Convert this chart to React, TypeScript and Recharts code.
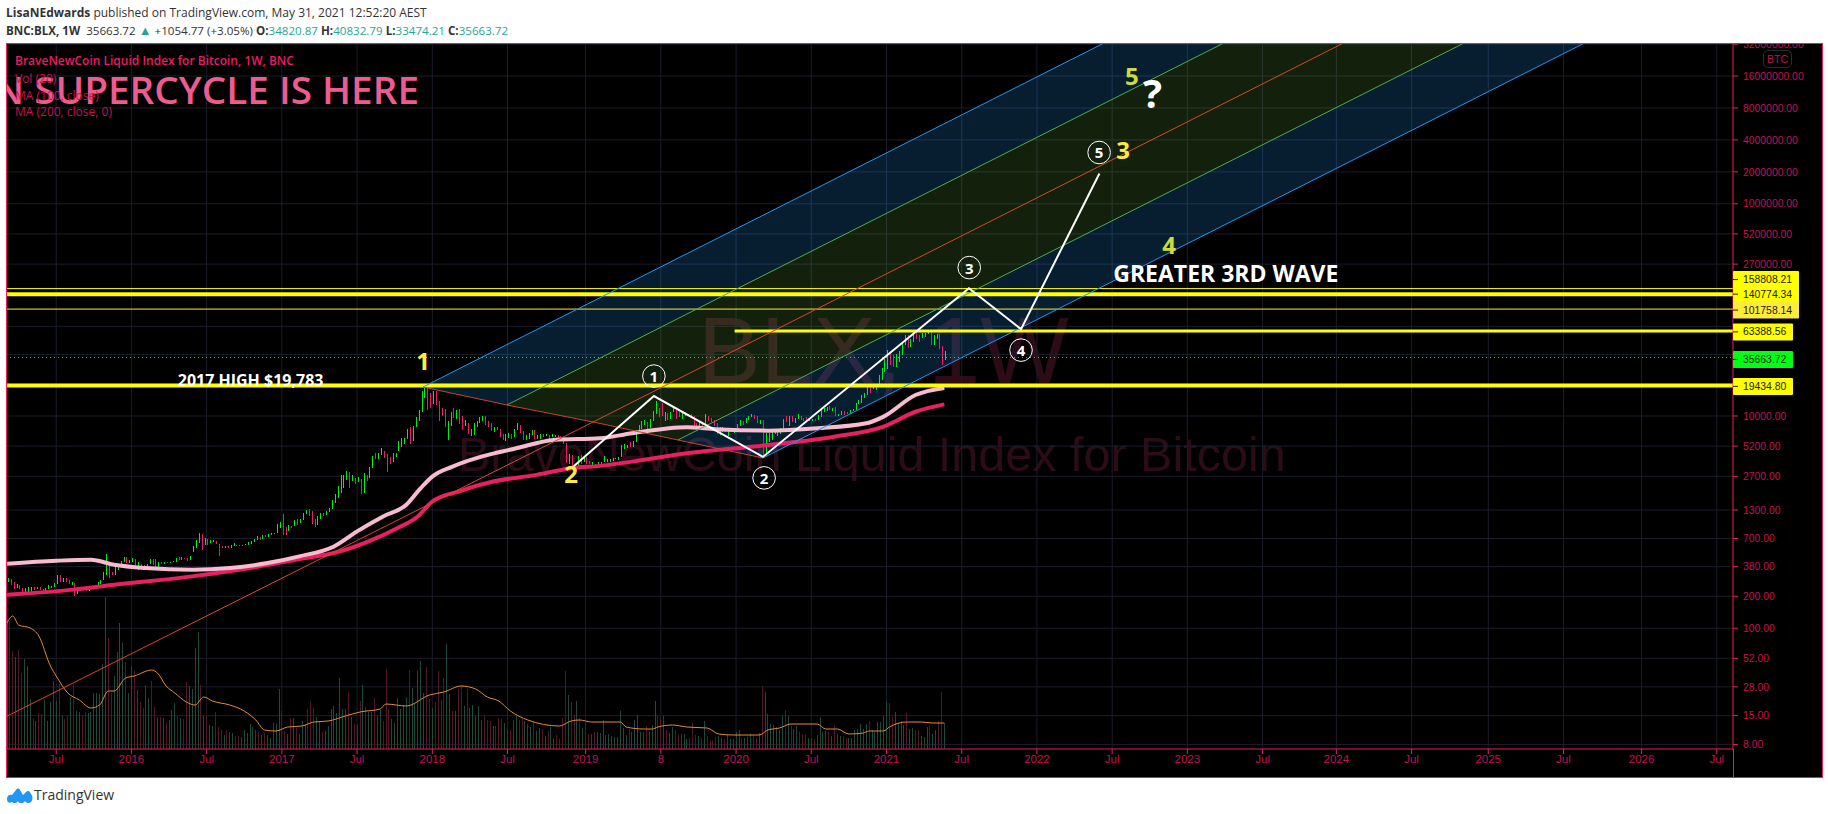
import {
  Area,
  Bar,
  CartesianGrid,
  ComposedChart,
  Line,
  ReferenceDot,
  Scatter,
  XAxis,
  YAxis
} from "recharts";

const CRIMSON = "#e91e63";
const AXIS_TEXT = "#c2134f";
const GRID = "#1b1d2a";
const TICK_FONT = "'Liberation Sans', sans-serif";
const UI_FONT = "'Open Sans', sans-serif";

// weekly candles as [high, low, close], the open is the previous close
const candles2015 = [
  [299, 270, 286], [293, 255, 260], [270, 235, 253], [262, 240, 255], // Mar
  [258, 235, 236], [238, 214, 222], [238, 218, 226], [244, 216, 235], // Apr
  [247, 225, 240], [245, 231, 237], [245, 232, 241], [243, 228, 230], // May
  [233, 221, 224], [237, 222, 233], [255, 232, 243], [250, 240, 249], [267, 247, 260], // Jun
  [316, 259, 311], [315, 272, 274], [300, 270, 290], [298, 275, 281], // Jul
  [285, 260, 263], [273, 258, 263], [265, 200, 228], [235, 210, 229], [240, 225, 238], // Aug
  [245, 231, 232], [236, 224, 231], [237, 225, 234], [239, 233, 237], // Sep
  [250, 235, 248], [272, 247, 262], [283, 261, 281], [335, 283, 325], // Oct
  [502, 320, 373], [385, 300, 330], [340, 315, 323], [375, 315, 362], [395, 355, 390], // Nov
  [430, 385, 425], [465, 425, 455], [465, 415, 423], [435, 410, 430] // Dec
];
const candles2016 = [
  [460, 425, 448], [450, 360, 380], [425, 355, 402], [400, 365, 378],
  [395, 365, 373], [405, 370, 402], [450, 400, 437], [445, 395, 431], [445, 365, 375],
  [420, 370, 412], [420, 405, 410], [425, 405, 417], [425, 410, 416],
  [425, 415, 420], [430, 418, 426], [460, 425, 455], [470, 435, 448],
  [465, 440, 458], [462, 445, 456], [460, 430, 441], [475, 435, 470], [590, 525, 580],
  [680, 570, 665], [790, 640, 760], [770, 540, 660], [705, 605, 660],
  [690, 610, 650], [675, 640, 660], [680, 650, 660], [665, 620, 625],
  [625, 480, 590], [600, 565, 570], [590, 565, 580], [595, 565, 570], [610, 565, 605],
  [630, 600, 625], [615, 600, 610], [612, 590, 600], [610, 600, 610],
  [622, 605, 618], [645, 610, 640], [660, 625, 650], [700, 650, 695], [745, 680, 705],
  [720, 685, 703], [760, 695, 750], [755, 720, 735], [775, 725, 765],
  [785, 750, 775], [795, 770, 790], [950, 785, 895], [1010, 885, 1000]
];
const candles2017 = [
  [1200, 760, 905], [905, 760, 820], [930, 820, 920], [925, 885, 915], [1050, 915, 1020],
  [1065, 945, 1000], [1060, 975, 1050], [1210, 1050, 1190], [1290, 1185, 1270],
  [1330, 1130, 1240], [1260, 950, 1025], [1080, 890, 970], [1130, 930, 1080],
  [1220, 1075, 1190], [1215, 1150, 1175], [1265, 1170, 1250], [1350, 1240, 1340],
  [1625, 1320, 1560], [1850, 1530, 1760], [2200, 1680, 2050], [2790, 1890, 2050], [2800, 2100, 2520],
  [3000, 2480, 2940], [2980, 2080, 2530], [2800, 2450, 2580], [2600, 2300, 2480],
  [2640, 2410, 2510], [2540, 1840, 1920], [2900, 1880, 2750], [2780, 2420, 2730], [3300, 2620, 3230],
  [4200, 3220, 4120], [4480, 3900, 4080], [4500, 3900, 4340], [5000, 4250, 4600],
  [4700, 4000, 4300], [4400, 2970, 3700], [4100, 3500, 3680], [4450, 3650, 4370],
  [4480, 4150, 4440], [5850, 4700, 5650], [6200, 5100, 6000], [6200, 5400, 6130], [7600, 6100, 7400],
  [7880, 5500, 5900], [8000, 5870, 7800], [9800, 7800, 9300], [11400, 8900, 11000],
  [17200, 11000, 15000], [19783, 14800, 19000], [19000, 11500, 13800], [16500, 11900, 13400]
];
const candles2018 = [
  [17250, 13000, 16200], [17150, 12800, 13700], [13800, 9000, 11600], [12000, 10000, 11100], [11700, 7800, 8200],
  [9000, 6000, 8500], [11000, 8100, 10400], [11800, 9500, 9650], [11500, 9400, 11450],
  [11700, 8400, 9500], [9900, 7400, 8200], [9100, 8100, 8500], [8600, 6700, 6900],
  [7500, 6500, 7000], [8500, 6600, 8000], [9000, 7800, 8900], [9700, 8600, 9300], [10000, 8900, 9650],
  [10000, 8300, 8700], [8900, 7900, 8200], [8500, 7200, 7350], [7800, 7100, 7700],
  [7800, 7400, 7500], [7600, 6300, 6500], [6800, 5900, 6150], [6800, 5800, 6350],
  [6900, 6150, 6750], [6800, 6050, 6350], [7500, 6350, 7400], [8500, 7300, 8200], [8300, 6900, 7000],
  [7200, 5900, 6300], [6600, 5900, 6450], [6900, 6100, 6700], [7300, 6650, 7200],
  [7400, 6100, 6400], [6600, 6100, 6500], [6800, 6100, 6700], [6800, 6400, 6600],
  [6700, 6450, 6600], [6650, 6100, 6300], [6800, 6300, 6450], [6550, 6400, 6450], [6550, 6250, 6400],
  [6500, 6300, 6350], [6400, 5400, 5550], [5600, 3600, 3800], [4400, 3500, 4000],
  [4250, 3200, 3350], [3550, 3150, 3250], [4200, 3200, 4000], [4250, 3550, 3750], [4050, 3650, 4000]
];
const candles2019 = [
  [4100, 3500, 3600], [3750, 3500, 3550], [3650, 3450, 3550], [3550, 3350, 3450],
  [3700, 3400, 3650], [3700, 3550, 3650], [4200, 3650, 3800], [3950, 3700, 3850],
  [3950, 3700, 3900], [4000, 3750, 3950], [4050, 3900, 3980], [4100, 3850, 4080],
  [5300, 4100, 5050], [5450, 4900, 5050], [5350, 5000, 5300], [5650, 5150, 5200], [5800, 5150, 5700],
  [7400, 5700, 7000], [8300, 6800, 8000], [8900, 7500, 8700], [9100, 8200, 8700],
  [8800, 7500, 8000], [9300, 7700, 8900], [11200, 8950, 10800], [13800, 10400, 11900],
  [12000, 9700, 11500], [13200, 10100, 10200], [11000, 9050, 10700], [10700, 9100, 9500], [10900, 9350, 10800],
  [12300, 10800, 11300], [11450, 9450, 10300], [10950, 9800, 10100], [10800, 9300, 10300],
  [10950, 10000, 10300], [10450, 9900, 10300], [10350, 9750, 10000], [10050, 7800, 8050], [8500, 7700, 7800],
  [8800, 7800, 8300], [8400, 7800, 8200], [10400, 7350, 9250], [9950, 8950, 9200],
  [9500, 8700, 8800], [9100, 8000, 8100], [8500, 6800, 7100], [7900, 6600, 7400],
  [7800, 7100, 7500], [7650, 7100, 7100], [7500, 6500, 7300], [7650, 7050, 7300], [7550, 6850, 7350]
];
const candles2020 = [
  [8450, 7700, 8200], [9200, 8100, 8700], [8950, 8300, 8600], [9550, 8550, 9300],
  [9900, 9100, 9900], [10500, 9700, 9900], [10200, 9300, 9700], [9950, 8500, 8500],
  [9200, 8400, 8900], [9200, 4200, 5200], [6900, 4500, 5900], [6950, 5700, 6250], [7200, 5900, 6800],
  [7450, 6800, 6900], [7250, 6500, 7050], [7750, 6800, 7700], [9450, 7600, 8900],
  [10050, 8700, 8700], [9950, 8100, 9700], [9950, 8800, 8700], [9550, 8650, 9450],
  [10400, 9300, 9650], [10000, 9100, 9350], [9550, 8950, 9300], [9800, 8850, 9000], [9300, 8900, 9050],
  [9450, 9050, 9300], [9300, 9050, 9170], [10200, 9100, 9700], [11400, 9800, 11050],
  [11900, 11000, 11700], [12050, 11200, 11850], [12400, 11400, 11650], [11800, 11200, 11650], [12050, 9900, 10250],
  [10500, 9900, 10350], [11100, 10250, 11000], [11200, 10150, 10770], [10900, 10400, 10650],
  [11500, 10500, 11350], [11700, 11200, 11500], [13200, 11400, 13100], [14100, 12900, 13800],
  [15900, 13200, 15500], [16500, 14800, 16000], [18900, 15700, 18500], [19400, 16300, 18200], [19900, 18100, 19100],
  [19400, 17600, 19200], [24200, 19000, 23800], [28400, 21800, 26300], [34800, 26000, 32200]
];
const candles2021 = [
  [41900, 28000, 38200], [40100, 30400, 36000], [37800, 28900, 32300], [38500, 29200, 34300],
  [40900, 32300, 39200], [49700, 37300, 48600], [58300, 47000, 57400], [58300, 44000, 45200],
  [52600, 44900, 51000], [61800, 49300, 59000], [60700, 53200, 57400], [58400, 50300, 55800], [60200, 54700, 58000],
  [61200, 55400, 60000], [64900, 59600, 60000], [61600, 47000, 49000], [58500, 47000, 56600],
  [59600, 52900, 58200], [59600, 43000, 46500], [45900, 30000, 34820], [40832, 33474, 35663.72]
];

// volume pane, read bar by bar, four runs of weeks
const volumesA = [
  130, 128, 98, 92, 99, 76, 90, 83, 50, 31, 28, 36, 35, 49, 28, 47, 68, 48, 65, 33,
  30, 33, 52, 65, 38, 37, 33, 37, 36, 37, 56, 56, 55, 85, 152, 111, 56, 73, 97, 126,
  106, 87, 56
];
const volumesB = [
  83, 78, 59, 47, 41, 64, 51, 68, 42, 32, 32, 31, 26, 29, 39, 46, 33, 31, 30, 67,
  63, 60, 101, 117, 64, 33, 33, 24, 23, 37, 22, 19, 14, 19, 17, 16, 13, 13, 12, 19,
  16, 25, 22, 19, 17, 14, 16, 14, 11, 26, 25, 60, 38, 18, 15, 31, 31, 21
];
const volumesC = [
  15, 28, 25, 40, 48, 41, 32, 27, 17, 18, 23, 40, 43, 36, 71, 40, 40, 57, 32, 25,
  24, 48, 64, 42, 37, 37, 51, 33, 39, 28, 80, 40, 30, 26, 51, 40, 44, 52, 79, 61,
  45, 78, 88, 56, 82, 50, 41, 47, 78, 49, 71, 105, 55, 38, 38, 60, 64, 43, 60, 41,
  44, 33, 43, 29, 33, 29, 28, 23, 23, 31, 30, 26, 19, 19, 29, 33, 29, 30, 28, 25,
  22, 27, 18, 21, 20, 13, 18, 22, 11, 14, 10, 31, 78, 54, 47, 34, 48
];
const volumesD = [
  31, 21, 27, 15, 15, 17, 17, 16, 29, 14, 15, 13, 12, 12, 38, 21, 14, 20, 17, 29,
  34, 17, 17, 23, 17, 24, 48, 33, 32, 33, 19, 16, 22, 19, 15, 15, 15, 10, 11, 26,
  14, 13, 11, 28, 13, 8, 9, 12, 13, 11, 10, 14, 10, 10, 17, 19, 11, 11, 12, 15,
  14, 11, 16, 63, 57, 35, 25, 24, 22, 19, 33, 39, 33, 23, 20, 23, 17, 15, 15, 11,
  11, 10, 14, 32, 17, 18, 17, 13, 24, 15, 13, 13, 11, 11, 11, 19, 20, 25, 20, 25,
  28, 19, 17, 27, 27, 33, 47, 46, 32, 37, 26, 28, 24, 36, 20, 21, 19, 19, 13, 12,
  22, 23, 15, 19, 28, 57, 26
];

const volumeMaWeeks = [
  0, 2, 4, 8, 11, 15, 17, 21, 25, 29, 32, 35, 37, 41, 44, 50, 52, 55, 58, 62, 65, 68, 71,
  77, 82, 86, 89, 93, 97, 102, 106, 111, 117, 122, 129, 131, 138, 146, 151, 157, 162, 166,
  170, 174, 180, 191, 195, 198, 202, 212, 214, 220, 223, 225, 230, 235, 242, 246, 251, 260,
  263, 267, 271, 280, 283, 287, 291, 296, 298, 303, 305, 311, 316, 320, 324
];
const volumeMa = [
  126, 133, 124, 121, 113, 83, 73, 56, 49, 41, 44, 58, 58, 71, 73, 79, 76, 63, 56, 47, 44, 52, 48,
  44, 38, 29, 19, 18, 22, 23, 27, 28, 33, 37, 40, 45, 43, 54, 57, 63, 60, 52,
  48, 38, 29, 23, 28, 29, 27, 27, 22, 20, 20, 22, 24, 22, 21, 15, 14, 14,
  19, 21, 25, 25, 20, 20, 15, 16, 18, 18, 22, 27, 27, 26, 26
];

const ma100Weeks = [
  0, 17, 29, 37, 48, 64, 77, 90, 101, 113, 121, 130, 138, 143, 147, 154, 164, 170, 176, 189,
  205, 216, 235, 245, 263, 280, 297, 303, 314, 324
];
const ma100 = [
  405, 432, 442, 396, 369, 356, 369, 411, 475, 590, 817, 1130, 1455, 2090, 2685, 3335, 4140, 4550, 4965, 5945,
  6170, 6870, 7830, 7500, 7280, 7660, 8530, 9860, 15770, 18400
];
const ma200Weeks = [
  0, 23, 37, 64, 84, 103, 113, 125, 135, 142, 147, 156, 168, 183, 195, 205, 216, 235, 263, 286, 303, 314, 324
];
const ma200 = [
  207, 231, 257, 308, 369, 458, 511, 658, 879, 1130, 1563, 1941, 2410, 2786, 3221, 3388, 3715, 4456, 5333, 6383, 7925, 10965, 12880
];

// pitchfork, one price per week, the base runs from the 2017 high to the 2020 low
const forkWeeks = [143.8, 172.8, 202.6, 231.9, 261.3, 596.6];
const forkBase = [18760, 12700, 8778, 5940, 4018];
const forkUpper = [18760, 47100, 120800, 307100, 779000, 3.23e10];
const forkUpperMid = [12700, 32570, 82800, 210100, 8.67e9];
const forkMedian = [8778, 22270, 56500, 2.34e9];
const forkLowerMid = [5940, 15070, 6.24e8];
const forkLower = [4018, 1.666e8];
const medianTailWeek = 0;
const medianTailPrice = 14.83;

const waveWeeks = [195.6, 223.6, 261.3, 332.5, 350.5, 377.6];
const wavePrices = [3313, 15420, 4115, 159950, 65830, 1932000];

const levelPrices = [158808.21, 140774.34, 101758.14, 63388.56, 19434.8];
const levelWidths = [1, 4, 1, 3, 4];
const levelStartWeeks = [-1, -1, -1, 251.5, -1];
const lastPrice = 35663.72;

const belowNotes = [
  { week: 84.2, price: 21810, text: "2017 HIGH $19,783", color: "#ffffff", size: 16 },
  { week: 421.3, price: 222900, text: "GREATER 3RD WAVE", color: "#ffffff", size: 23 }
];
const waveNumbers = [
  { week: 143.8, price: 33630, text: "1", color: "#ffeb3b", size: 24 },
  { week: 195, price: 2848, text: "2", color: "#ffeb3b", size: 24 },
  { week: 385.8, price: 3250000, text: "3", color: "#ffeb3b", size: 24 },
  { week: 401.7, price: 415000, text: "4", color: "#cddc39", size: 24 },
  { week: 388.8, price: 16240000, text: "5", color: "#cddc39", size: 24 },
  { week: 396, price: 11100000, text: "?", color: "#ffffff", size: 40 }
];
const waveCircles = [
  { week: 223.6, price: 23780, text: "1" },
  { week: 261.7, price: 2610, text: "2" },
  { week: 332.6, price: 250500, text: "3" },
  { week: 350.5, price: 41770, text: "4" },
  { week: 377.5, price: 3044000, text: "5" }
];

const gridPrices = [
  32000000, 16000000, 8000000, 4000000, 2000000, 1000000, 520000, 270000, 140000, 70000, 38000,
  20000, 10000, 5200, 2700, 1300, 700, 380, 200, 100, 52, 28, 15, 8
];
// the tags on the axis cover the other four round numbers
const priceTicks = [
  32000000, 16000000, 8000000, 4000000, 2000000, 1000000, 520000, 270000,
  10000, 5200, 2700, 1300, 700, 380, 200, 100, 52, 28, 15, 8
];
const weekTicks = [17, 43, 69, 95, 121, 147, 173, 200, 226, 252, 278, 304, 330, 356, 382, 408, 434, 459.5, 485.5, 512, 538, 565, 591];
const weekLabels = [
  "Jul", "2016", "Jul", "2017", "Jul", "2018", "Jul", "2019", "8", "2020", "Jul", "2021", "Jul",
  "2022", "Jul", "2023", "Jul", "2024", "Jul", "2025", "Jul", "2026", "Jul"
];

const priceTags = [
  { value: 158808.21, fill: "#ffff00", width: 66, nudge: -9 },
  { value: 140774.34, fill: "#ffff00", width: 66, nudge: 0 },
  { value: 101758.14, fill: "#ffeb3b", width: 66, nudge: 1 },
  { value: 63388.56, fill: "#ffff00", width: 60, nudge: 1 },
  { value: 35663.72, fill: "#00ff14", width: 60, nudge: 2 },
  { value: 19434.8, fill: "#ffff00", width: 60, nudge: 1 }
];

const weekMin = -0.35;
const weekMax = 596.6;
const priceMin = 7.27;
const priceMax = 32060000;
const volumeScaleMax = 705;

const allCandles = [
  ...candles2015,
  ...candles2016,
  ...candles2017,
  ...candles2018,
  ...candles2019,
  ...candles2020,
  ...candles2021
];
const allVolumes = [...volumesA, ...volumesB, ...volumesC, ...volumesD];

const rows = allCandles.map(([high, low, close], week) => {
  const open = week === 0 ? 275 : allCandles[week - 1][2];
  return { week, open, high, low, close, range: [low, high], volume: allVolumes[week] };
});

const series = (weeks: number[], prices: number[]) =>
  weeks.map((week, i) => ({ week, price: prices[i] }));

const bandRows = (weeks: number[], lows: number[], highs: number[]) =>
  weeks.map((week, i) => ({ week, band: [lows[i], highs[i]] }));

function CandleShape(props: any) {
  const { x, y, width, height, payload } = props;
  const { open, high, low, close } = payload;
  const span = Math.log(high / low) || 1;
  const yOf = (v: number) => y + (height * Math.log(high / v)) / span;
  const color = close >= open ? "#00ee20" : CRIMSON;
  const left = Math.round(x);
  const top = Math.min(yOf(open), yOf(close));
  return (
    <g shapeRendering="crispEdges">
      <rect x={left + 1} y={y} width={1} height={height} fill={color} />
      <rect x={left} y={top} width={width} height={Math.max(1, Math.abs(yOf(close) - yOf(open)))} fill={color} />
    </g>
  );
}

function VolumeShape(props: any) {
  const { x, y, width, height, payload } = props;
  const color = payload.close >= payload.open ? "#1f4a3b" : "#501828";
  return <rect x={Math.round(x)} y={y} width={width} height={height} fill={color} shapeRendering="crispEdges" />;
}

function NoteShape(props: any) {
  const { cx, cy, payload } = props;
  return (
    <text
      x={cx}
      y={cy}
      fill={payload.color}
      fontSize={payload.size}
      fontWeight={700}
      fontFamily={UI_FONT}
      textAnchor="middle"
      dominantBaseline="central"
    >
      {payload.text}
    </text>
  );
}

function CircleShape(props: any) {
  const { cx, cy, payload } = props;
  return (
    <g>
      <circle cx={cx} cy={cy} r={11.3} fill="none" stroke="#ffffff" strokeWidth={1} />
      <text
        x={cx}
        y={cy}
        fill="#ffffff"
        fontSize={15}
        fontWeight={700}
        fontFamily={UI_FONT}
        textAnchor="middle"
        dominantBaseline="central"
      >
        {payload.text}
      </text>
    </g>
  );
}

function priceTag(tag: (typeof priceTags)[number]) {
  return (props: any) => {
    const { cx, cy } = props;
    const mid = cy + tag.nudge;
    return (
      <g>
        <rect x={cx} y={mid - 8.5} width={tag.width} height={17} rx={1} fill={tag.fill} />
        <line x1={cx} x2={cx + 5} y1={mid} y2={mid} stroke="#222200" />
        <text x={cx + 10} y={mid} dominantBaseline="central" fontSize={10.4} fontFamily={TICK_FONT} fill="#1a1a00">
          {tag.value.toFixed(2)}
        </text>
      </g>
    );
  };
}

const absolute = (left: number, top: number) => ({ position: "absolute" as const, left, top });

export default function App() {
  return (
    <div style={{ position: "absolute", left: 0, top: 0, width: 1828, height: 814, background: "#ffffff", overflow: "hidden" }}>
      <div style={{ ...absolute(6, 43), width: 1816, height: 734, background: "#000000" }} />

      {/* watermarks sit under the chart */}
      <div style={{ ...absolute(698, 298), fontFamily: TICK_FONT, fontSize: 94, lineHeight: "105px", color: "#2c0c17", whiteSpace: "nowrap" }}>BLX, 1W</div>
      <div style={{ ...absolute(458, 427), fontFamily: TICK_FONT, fontSize: 48.5, lineHeight: "54px", color: "#2c0c17", whiteSpace: "nowrap" }}>
        BraveNewCoin Liquid Index for Bitcoin
      </div>

      <div style={{ ...absolute(0, 0), width: 1828, height: 814 }}>
        <ComposedChart
          width={1828}
          height={814}
          data={rows}
          margin={{ top: 44, right: 6, bottom: 37, left: 6 }}
        >
          <CartesianGrid stroke={GRID} horizontalValues={gridPrices} verticalValues={weekTicks} />
          <XAxis
            dataKey="week"
            type="number"
            domain={[weekMin, weekMax]}
            allowDataOverflow
            ticks={weekTicks}
            interval={0}
            height={28}
            tickSize={5}
            tickMargin={1}
            stroke={CRIMSON}
            tick={{ fill: AXIS_TEXT, fontSize: 11.5, fontFamily: TICK_FONT }}
            tickFormatter={(value: number) => weekLabels[weekTicks.indexOf(value)]}
          />
          <XAxis xAxisId="vol" dataKey="week" type="number" domain={[weekMin, weekMax]} allowDataOverflow hide />
          <YAxis
            orientation="right"
            scale="log"
            domain={[priceMin, priceMax]}
            allowDataOverflow
            ticks={priceTicks}
            interval={0}
            width={89}
            tickSize={5}
            tickMargin={5}
            stroke={CRIMSON}
            tick={{ fill: AXIS_TEXT, fontSize: 10.4, fontFamily: TICK_FONT }}
            tickFormatter={(value: number) => value.toFixed(2)}
          />
          <YAxis yAxisId="vol" orientation="right" domain={[0, volumeScaleMax]} hide />

          <Bar xAxisId="vol" yAxisId="vol" dataKey="volume" barSize={1} shape={VolumeShape} isAnimationActive={false} />
          <Line
            xAxisId="vol"
            yAxisId="vol"
            data={series(volumeMaWeeks, volumeMa)}
            dataKey="price"
            type="monotone"
            stroke="#e58a3c"
            strokeWidth={1}
            dot={false}
            isAnimationActive={false}
          />

          <Bar dataKey="range" barSize={3} shape={CandleShape} isAnimationActive={false} />
          <Line data={series(ma200Weeks, ma200)} dataKey="price" type="monotone" stroke={CRIMSON} strokeWidth={4} dot={false} isAnimationActive={false} />
          <Line data={series(ma100Weeks, ma100)} dataKey="price" type="monotone" stroke="#f8bbd0" strokeWidth={4} dot={false} isAnimationActive={false} />

          <Scatter data={belowNotes} dataKey="price" shape={NoteShape} isAnimationActive={false} />

          {levelPrices.map((price, i) => (
            <Line
              key={price}
              data={series([levelStartWeeks[i], weekMax], [price, price])}
              dataKey="price"
              stroke={i === 2 ? "#ffeb3b" : "#ffff00"}
              strokeWidth={levelWidths[i]}
              dot={false}
              isAnimationActive={false}
            />
          ))}

          <Area
            data={bandRows(forkWeeks, [forkBase[0], ...forkUpperMid], forkUpper)}
            dataKey="band"
            stroke="none"
            fill="#2196f3"
            fillOpacity={0.2}
            isAnimationActive={false}
          />
          <Area
            data={bandRows(forkWeeks.slice(1), [forkBase[1], ...forkMedian], forkUpperMid)}
            dataKey="band"
            stroke="none"
            fill="#78c846"
            fillOpacity={0.16}
            isAnimationActive={false}
          />
          <Area
            data={bandRows(forkWeeks.slice(2), [forkBase[2], ...forkLowerMid], forkMedian)}
            dataKey="band"
            stroke="none"
            fill="#78c846"
            fillOpacity={0.16}
            isAnimationActive={false}
          />
          <Area
            data={bandRows(forkWeeks.slice(3), [forkBase[3], ...forkLower], forkLowerMid)}
            dataKey="band"
            stroke="none"
            fill="#2196f3"
            fillOpacity={0.2}
            isAnimationActive={false}
          />

          <Line data={series(forkWeeks.slice(0, 5), forkBase)} dataKey="price" stroke="#c8452a" strokeWidth={1} dot={false} isAnimationActive={false} />
          <Line data={series(forkWeeks, forkUpper)} dataKey="price" stroke="#2196f3" strokeWidth={1} dot={false} isAnimationActive={false} />
          <Line data={series(forkWeeks.slice(1), forkUpperMid)} dataKey="price" stroke="#4caf50" strokeWidth={1} dot={false} isAnimationActive={false} />
          <Line
            data={series([medianTailWeek, ...forkWeeks.slice(2)], [medianTailPrice, ...forkMedian])}
            dataKey="price"
            stroke="#d9482b"
            strokeWidth={1}
            dot={false}
            isAnimationActive={false}
          />
          <Line data={series(forkWeeks.slice(3), forkLowerMid)} dataKey="price" stroke="#4caf50" strokeWidth={1} dot={false} isAnimationActive={false} />
          <Line data={series(forkWeeks.slice(4), forkLower)} dataKey="price" stroke="#2196f3" strokeWidth={1} dot={false} isAnimationActive={false} />

          <Line
            data={series([weekMin, weekMax], [lastPrice, lastPrice])}
            dataKey="price"
            stroke="#00ff14"
            strokeWidth={1}
            strokeDasharray="1 3"
            dot={false}
            isAnimationActive={false}
          />
          <Line data={series(waveWeeks, wavePrices)} dataKey="price" stroke="#ffffff" strokeWidth={2} dot={false} isAnimationActive={false} />

          <Scatter data={waveCircles} dataKey="price" shape={CircleShape} isAnimationActive={false} />
          <Scatter data={waveNumbers} dataKey="price" shape={NoteShape} isAnimationActive={false} />

          {priceTags.map((tag) => (
            <ReferenceDot key={tag.value} x={weekMax} y={tag.value} ifOverflow="visible" shape={priceTag(tag)} />
          ))}
        </ComposedChart>
      </div>

      {/* frame */}
      <div style={{ ...absolute(6, 43), width: 1815, height: 733, border: `1px solid ${CRIMSON}`, pointerEvents: "none" }} />
      <div style={{ ...absolute(1733, 749), width: 1, height: 28, background: CRIMSON }} />

      {/* header on white, also hides the cut off top tick */}
      <div style={{ ...absolute(0, 0), width: 1828, height: 43, background: "#ffffff", fontFamily: UI_FONT, fontSize: 12, color: "#333333" }}>
        <div style={{ ...absolute(6, 4), whiteSpace: "nowrap" }}>
          <b>LisaNEdwards</b> published on TradingView.com, May 31, 2021 12:52:20 AEST
        </div>
        <div style={{ ...absolute(6, 21), whiteSpace: "nowrap", fontSize: 11.6 }}>
          <b>BNC:BLX, 1W</b>&nbsp; 35663.72 <span style={{ color: "#26a69a", fontSize: 13 }}>▲</span> +1054.77 (+3.05%) <b>O:</b>
          <span style={{ color: "#26a69a" }}>34820.87</span> <b>H:</b>
          <span style={{ color: "#26a69a" }}>40832.79</span> <b>L:</b>
          <span style={{ color: "#26a69a" }}>33474.21</span> <b>C:</b>
          <span style={{ color: "#26a69a" }}>35663.72</span>
        </div>
      </div>

      {/* headline, cut by the left edge of the pane */}
      <div style={{ ...absolute(7, 64), width: 412, height: 50, overflow: "hidden", display: "flex", justifyContent: "flex-end" }}>
        <span style={{ fontFamily: UI_FONT, fontWeight: 600, fontSize: 38.7, color: "#ee5b8f", whiteSpace: "nowrap", lineHeight: "50px" }}>
          N SUPERCYCLE IS HERE
        </span>
      </div>
      <div style={{ ...absolute(15, 52), fontFamily: UI_FONT, fontSize: 12, fontWeight: 600, color: CRIMSON, whiteSpace: "nowrap" }}>
        BraveNewCoin Liquid Index for Bitcoin, 1W, BNC
      </div>
      <div style={{ ...absolute(15, 70), fontFamily: UI_FONT, fontSize: 12, color: AXIS_TEXT }}>Vol (20)</div>
      <div style={{ ...absolute(15, 87), fontFamily: UI_FONT, fontSize: 12, color: AXIS_TEXT }}>MA (100, close)</div>
      <div style={{ ...absolute(15, 103), fontFamily: UI_FONT, fontSize: 12, color: AXIS_TEXT }}>MA (200, close, 0)</div>

      <div
        style={{
          ...absolute(1763, 50),
          width: 27,
          height: 16,
          border: "1px solid #2a2a35",
          borderRadius: 5,
          color: AXIS_TEXT,
          fontFamily: TICK_FONT,
          fontSize: 10.5,
          lineHeight: "16px",
          textAlign: "center"
        }}
      >
        BTC
      </div>

      {/* publisher mark */}
      <svg style={{ ...absolute(6, 787) }} width={27} height={17} viewBox="0 0 27 17">
        <path
          d="M1 12 C1 8 4 7 6 8 L10 3 C11 1 13 1 14 3 L17 8 L20 5 C22 3 24 4 25 7 C27 9 27 13 25 15 C23 17 20 16 19 14 C17 17 13 17 12 14 C10 17 7 16 6 15 C3 17 1 15 1 12 Z"
          fill="#2196f3"
        />
      </svg>
      <div style={{ ...absolute(34, 785), fontFamily: UI_FONT, fontSize: 14, color: "#333333" }}>TradingView</div>
    </div>
  );
}
